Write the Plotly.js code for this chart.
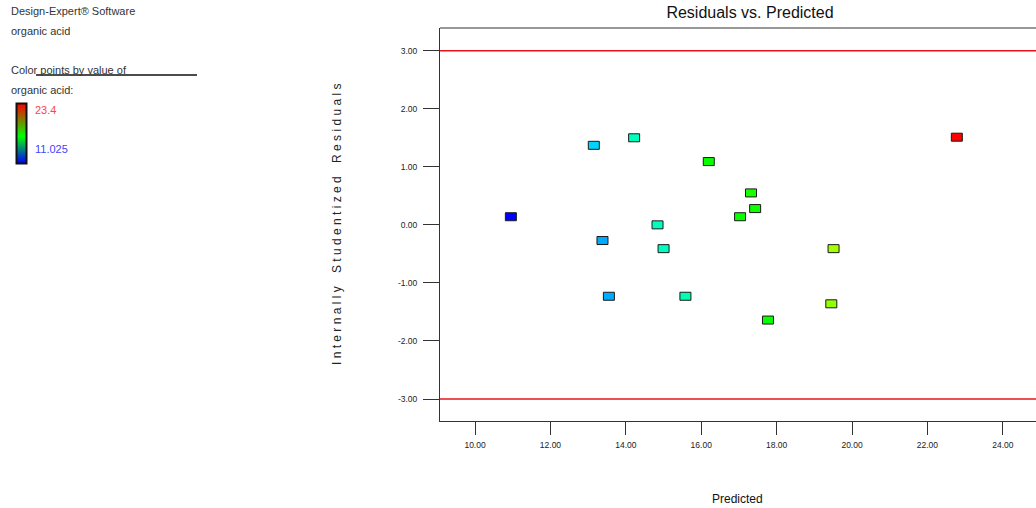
<!DOCTYPE html>
<html>
<head>
<meta charset="utf-8">
<script src="https://cdn.plot.ly/plotly-3.0.1.min.js"></script>
<style>html,body{margin:0;padding:0;overflow:hidden;background:#fff}</style>
</head>
<body>
<div id="chart" style="width:1036px;height:508px"></div>
<script>
// ---- data ----
const predicted = [10.95, 13.15, 14.22, 16.20, 14.84, 13.38, 15.00, 13.55, 15.58, 17.32, 17.43, 17.03, 19.51, 19.45, 17.77, 22.78];
const residuals = [0.14, 1.37, 1.50, 1.09, 0.00, -0.27, -0.41, -1.23, -1.23, 0.55, 0.28, 0.14, -0.41, -1.36, -1.64, 1.51];
const organicAcid = [11.025, 13.6, 14.9, 17.3, 14.9, 13.1, 14.9, 13.1, 15.1, 17.5, 17.4, 17.3, 19.2, 19.0, 17.3, 23.4];
const xTickVals = [10, 12, 14, 16, 18, 20, 22, 24];
const yTickVals = [-3, -2, -1, 0, 1, 2, 3];
const limitLines = [3, -3];
const colorMin = 11.025, colorMax = 23.4;

// ---- layout helpers ----
const L = 440, T = 28, W = 1036, H = 508, B = 87;
const plotW = W - L, plotH = H - T - B;
const px = p => (p - L) / plotW;
const py = p => (T + plotH - p) / plotH;
const font = 'Liberation Sans, Arial, sans-serif';

function hueColor(v) {
  const t = Math.max(0, Math.min(1, (v - colorMin) / (colorMax - colorMin)));
  const h = 240 * (1 - t);
  const f = (n) => { const k = (n + h / 60) % 6; return Math.round(255 * (1 - Math.max(0, Math.min(k, 4 - k, 1)))); };
  return 'rgb(' + f(5) + ',' + f(3) + ',' + f(1) + ')';
}
// legend bar scale: blue -> green -> red (linear RGB mix)
const legendStops = [[0, [0, 0, 255]], [0.45, [0, 255, 0]], [1, [255, 0, 0]]];
function legendColor(t) {
  for (let i = 1; i < legendStops.length; i++) {
    const [t0, c0] = legendStops[i - 1], [t1, c1] = legendStops[i];
    if (t <= t1) {
      const u = (t - t0) / (t1 - t0);
      return 'rgb(' + c0.map((c, k) => Math.round(c + (c1[k] - c) * u)).join(',') + ')';
    }
  }
  return 'rgb(255,0,0)';
}

const shapes = [];
limitLines.forEach(v => shapes.push({type:'line', xref:'paper', yref:'y', x0:0, x1:1, y0:v, y1:v, line:{color:'#e8141a', width:1.5}, layer:'below'}));
shapes.push({type:'line', xref:'paper', yref:'paper', x0:0, x1:1, y0:1, y1:1, line:{color:'#333', width:1}});
shapes.push({type:'line', xref:'paper', yref:'paper', x0:px(36), x1:px(197), y0:py(75), y1:py(75), line:{color:'#111', width:1.5}});

// colour legend bar (gradient made of thin strips) + outline
const barTop = 104, barBottom = 163, barLeft = 17, barRight = 26;
for (let p = barTop; p < barBottom; p++) {
  const t = 1 - (p + 0.5 - barTop) / (barBottom - barTop);
  shapes.push({type:'rect', xref:'paper', yref:'paper', x0:px(barLeft), x1:px(barRight), y0:py(p + 1.05), y1:py(p), fillcolor:legendColor(t), line:{width:0}});
}
shapes.push({type:'rect', xref:'paper', yref:'paper', x0:px(barLeft - 0.5), x1:px(barRight + 0.5), y0:py(barBottom + 0.5), y1:py(barTop - 0.5), fillcolor:'rgba(0,0,0,0)', line:{color:'#111', width:2}});

predicted.forEach((x, i) => shapes.push({
  type:'rect', xref:'x', yref:'y', xsizemode:'pixel', ysizemode:'pixel',
  xanchor:x, yanchor:residuals[i], x0:-5.5, x1:5.5, y0:-4, y1:4,
  fillcolor:hueColor(organicAcid[i]), line:{color:'#1a1a1a', width:1}
}));

const yTitle = ['Internally', 'Studentized', 'Residuals'].map(w => w.split('').join(' ')).join('\u00a0\u00a0\u00a0\u00a0');

const annotations = [
  {text:'Design-Expert® Software', x:px(9), y:py(11)},
  {text:'organic acid', x:px(9), y:py(31)},
  {text:'Color points by value of', x:px(9), y:py(70)},
  {text:'organic acid:', x:px(9), y:py(90)},
  {text:'23.4', x:px(33), y:py(110), font:{family:font, size:11, color:'#ff4444'}},
  {text:'11.025', x:px(33), y:py(149), font:{family:font, size:11, color:'#4444ff'}}
].map(a => Object.assign({xref:'paper', yref:'paper', xanchor:'left', yanchor:'middle', showarrow:false, font:{family:font, size:11, color:'#333'}}, a));
annotations.push({text:yTitle, xref:'paper', yref:'paper', x:px(337), y:py(225), textangle:-90, showarrow:false, xanchor:'center', yanchor:'middle', font:{family:font, size:12, color:'#222'}});
annotations.push({text:'Predicted', xref:'paper', yref:'paper', x:px(737), y:py(499), showarrow:false, xanchor:'center', yanchor:'middle', font:{family:font, size:12, color:'#111'}});

const traces = [
  {type:'scatter', mode:'markers', x:predicted, y:residuals, marker:{size:11, opacity:0, color:organicAcid.map(hueColor)}, hoverinfo:'x+y', showlegend:false}
];

const axisCommon = {showgrid:false, zeroline:false, showline:true, linecolor:'#333', linewidth:1, ticks:'outside', tickcolor:'#333', tickwidth:1,
  tickfont:{family:font, size:8.5, color:'#222'}, fixedrange:true};

const layout = {
  width:W, height:H, margin:{l:L, r:0, t:T, b:B}, paper_bgcolor:'#fff', plot_bgcolor:'#fff', showlegend:false,
  title:{text:'Residuals vs. Predicted', font:{family:font, size:16, color:'#111'}, xref:'paper', x:px(750), xanchor:'center', yref:'container', y:1-12/H, yanchor:'middle'},
  xaxis:Object.assign({}, axisCommon, {range:[9.07, 24.88], tickvals:xTickVals, ticktext:xTickVals.map(v=>v.toFixed(2)), ticklen:13, ticklabelstandoff:3}),
  yaxis:Object.assign({}, axisCommon, {range:[-3.379, 3.391], tickvals:yTickVals, ticktext:yTickVals.map(v=>v.toFixed(2)), ticklen:16, ticklabelstandoff:4}),
  shapes:shapes, annotations:annotations
};

Plotly.newPlot('chart', traces, layout, {displayModeBar:false, staticPlot:true});
</script>
</body>
</html>
